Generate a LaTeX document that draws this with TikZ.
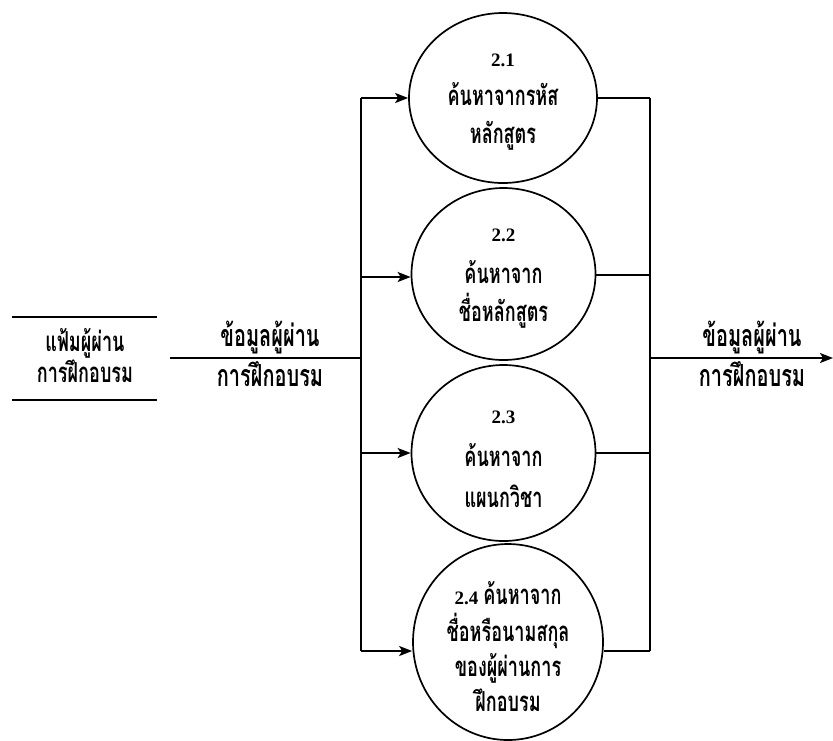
\documentclass[tikz,border=0pt]{standalone}
\usepackage{fontspec}
\setmainfont{Liberation Serif}
\newfontfamily\thaifont[Script=Thai]{Loma}
\usetikzlibrary{arrows.meta,shapes.geometric}
\newcommand{\tl}[1]{\scalebox{0.95}[1.45]{#1}}
\begin{document}
\begin{tikzpicture}[x=1pt,y=-1pt,
  proc/.style={draw,ellipse,line width=1.7pt,inner sep=0pt},
  lbl/.style={font=\thaifont\bfseries\fontsize{19}{19}\selectfont,inner sep=0pt,anchor=base},
  big/.style={lbl,font=\thaifont\bfseries\fontsize{21}{21}\selectfont},
  num/.style={font=\bfseries\fontsize{19}{19}\selectfont,inner sep=0pt,anchor=base},
  flow/.style={line width=1.8pt},
  arr/.style={line width=1.8pt,-{Stealth[length=13pt,width=10pt,inset=3pt]}}]
\useasboundingbox (0,0) rectangle (833,740);
% processes
\node[proc,minimum width=188pt,minimum height=170pt] (p1) at (503,98) {};
\node[proc,minimum width=184pt,minimum height=172pt] (p2) at (503.5,274) {};
\node[proc,minimum width=184pt,minimum height=176pt] (p3) at (503.5,453) {};
\node[proc,minimum width=190pt,minimum height=196pt] (p4) at (508,642) {};
% process texts
\node[num] (t11) at (503,66.5) {2.1};
\node[lbl] (t12) at (503,105) {\tl{ค้นหาจากรหัส}};
\node[lbl] (t13) at (503,143) {\tl{หลักสูตร}};
\node[num] (t21) at (503.5,241.5) {2.2};
\node[lbl] (t22) at (503.5,283) {\tl{ค้นหาจาก}};
\node[lbl] (t23) at (503.5,321) {\tl{ชื่อหลักสูตร}};
\node[num] (t31) at (503.5,423.5) {2.3};
\node[lbl] (t32) at (503.5,466) {\tl{ค้นหาจาก}};
\node[lbl] (t33) at (503.5,507) {\tl{แผนกวิชา}};
\node[lbl] (t41) at (508,604) {{\normalfont\bfseries 2.4}\hspace{5pt}\tl{ค้นหาจาก}};
\node[lbl] (t42) at (508,641) {\tl{ชื่อหรือนามสกุล}};
\node[lbl] (t43) at (508,676) {\tl{ของผู้ผ่านการ}};
\node[lbl] (t44) at (508,711) {\tl{ฝึกอบรม}};
% data store
\coordinate (s1) at (12,317);
\coordinate (s2) at (157,317);
\coordinate (s3) at (12,400);
\coordinate (s4) at (157,400);
\draw[flow] (s1) -- (s2);
\draw[flow] (s3) -- (s4);
\node[lbl] (st1) at (85,351) {\tl{แฟ้มผู้ผ่าน}};
\node[lbl] (st2) at (85,382) {\tl{การฝึกอบรม}};
% junctions
\coordinate (jl) at (361,358);
\coordinate (jr) at (650,358);
\coordinate (l1) at (361,98);
\coordinate (l2) at (361,277);
\coordinate (l3) at (361,453);
\coordinate (l4) at (361,651);
\coordinate (r1) at (650,98);
\coordinate (r2) at (650,275);
\coordinate (r3) at (650,453);
\coordinate (r4) at (650,651);
\coordinate (out) at (833,358);
\coordinate (in) at (170,358);
\draw[flow] (in) -- (jl);
\draw[flow] (l1) -- (l4);
\draw[arr] (l1) -- (p1.west |- l1);
\draw[arr] (l2) -- (p2.west |- l2);
\draw[arr] (l3) -- (p3.west |- l3);
\draw[arr] (l4) -- (p4.west |- l4);
\draw[flow] (p1.east |- r1) -- (r1);
\draw[flow] (p2.east |- r2) -- (r2);
\draw[flow] (p3.east |- r3) -- (r3);
\draw[flow] (p4.east |- r4) -- (r4);
\draw[flow] (r1) -- (r4);
\draw[arr] (jr) -- (out);
% flow labels
\node[big] (fl1) at (270,346) {\tl{ข้อมูลผู้ผ่าน}};
\node[big] (fl2) at (270,386) {\tl{การฝึกอบรม}};
\node[big] (fr1) at (752,346) {\tl{ข้อมูลผู้ผ่าน}};
\node[big] (fr2) at (752,386) {\tl{การฝึกอบรม}};
\end{tikzpicture}
\end{document}
